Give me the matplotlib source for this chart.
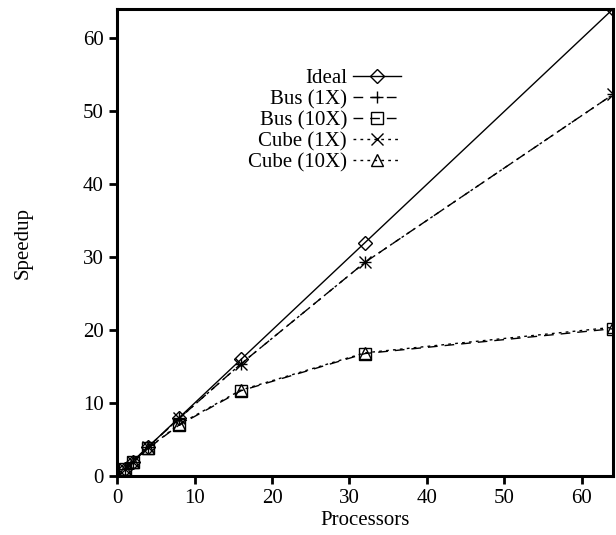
import matplotlib
matplotlib.use("Agg")
import matplotlib.pyplot as plt

plt.rcParams["font.family"] = ["Liberation Serif", "DejaVu Serif"]

# processor counts and measured speedups
processors = [1, 2, 4, 8, 16, 32, 64]
ideal = [1, 2, 4, 8, 16, 32, 64]
bus_1x = [1, 2, 4, 7.9, 15.4, 29.3, 52.3]
bus_10x = [1, 2, 3.8, 7.0, 11.7, 16.8, 20.2]
cube_1x = [1, 2, 4, 7.9, 15.4, 29.3, 52.3]
cube_10x = [1, 2, 3.8, 7.1, 11.8, 16.9, 20.4]

fig = plt.figure(figsize=(6.16, 5.35), dpi=100)
ax = fig.add_axes([0.19, 0.11, 0.805, 0.873])

kw = dict(color="black", lw=1.0, markerfacecolor="none", markeredgewidth=1.0)
ax.plot(processors, ideal, "-", marker="D", markersize=7, label="Ideal", **kw)
ax.plot(processors, bus_1x, marker="+", markersize=9, linestyle=(0, (7, 5)),
        label="Bus (1X)", **kw)
ax.plot(processors, bus_10x, marker="s", markersize=8, linestyle=(0, (7, 5)),
        label="Bus (10X)", **kw)
ax.plot(processors, cube_1x, marker="x", markersize=8, linestyle=(0, (2, 3)),
        label="Cube (1X)", **kw)
ax.plot(processors, cube_10x, marker="^", markersize=8, linestyle=(0, (2, 3)),
        label="Cube (10X)", **kw)

ax.set_xlim(0, 64)
ax.set_ylim(0, 64)
ax.set_xticks([0, 10, 20, 30, 40, 50, 60])
ax.set_yticks([0, 10, 20, 30, 40, 50, 60])
ax.tick_params(direction="out", length=6, width=2, labelsize=15, top=False, right=False)
for sp in ax.spines.values():
    sp.set_linewidth(2.2)

ax.set_xlabel("Processors", fontsize=15, labelpad=2)
ax.set_ylabel("Speedup", fontsize=15, labelpad=36)

ax.legend(loc="upper left", bbox_to_anchor=(0.264, 0.872), frameon=False, markerfirst=False,
          fontsize=15, handlelength=2.3, labelspacing=0.07, handletextpad=0.3,
          borderpad=0, borderaxespad=0)

fig.savefig("out.png", dpi=100)
